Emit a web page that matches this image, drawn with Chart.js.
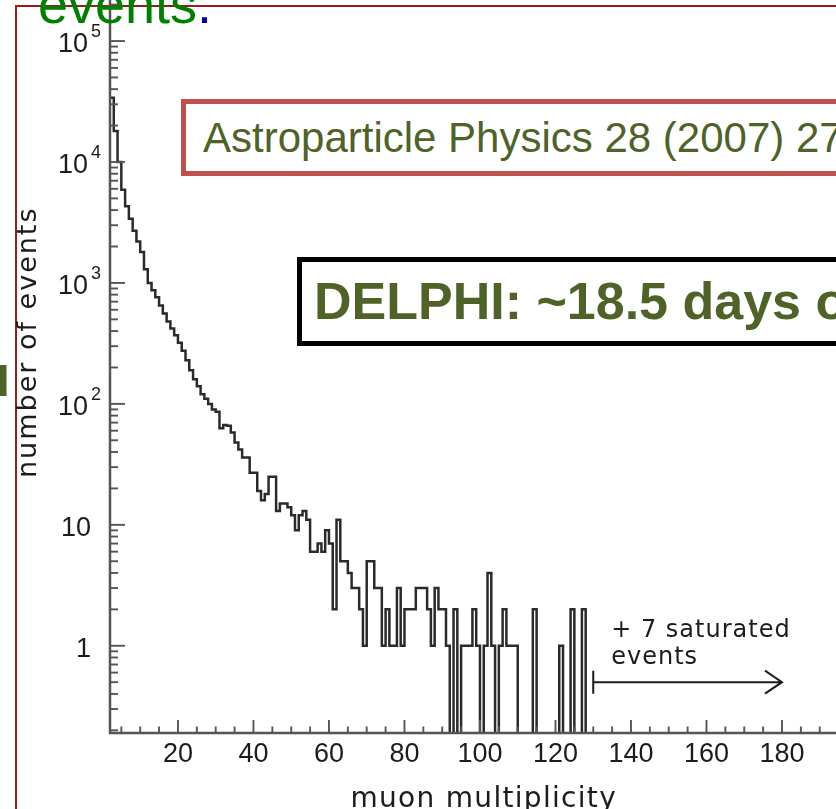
<!DOCTYPE html>
<html>
<head>
<meta charset="utf-8">
<title>DELPHI muon multiplicity</title>
<script src="https://cdn.jsdelivr.net/npm/chart.js@4.4.1/dist/chart.umd.min.js"></script>
<style>
  html, body { margin: 0; padding: 0; background: #fff; }
  body { position: relative; width: 836px; height: 809px; overflow: hidden;
         font-family: "Liberation Sans", Arial, sans-serif; }
  #plot { position: absolute; left: 0; top: -60px; width: 900px; height: 869px; }
  #frame { position: absolute; left: 15px; top: 5px; width: 1000px; height: 1000px;
           border-left: 2px solid #9e1a1a; border-top: 2px solid #9e1a1a; box-sizing: border-box; }
  .lead { position: absolute; left: 38px; top: -23px; font-size: 54px; line-height: 54px;
          color: #008000; white-space: nowrap; }
  .lead span { color: #000099; }
  .side { position: absolute; left: -26px; top: 346px; font-size: 60px; line-height: 60px;
          font-weight: bold; color: #4f6228; }
  .box { position: absolute; background: #fff; box-sizing: border-box; white-space: nowrap; }
  #ref { left: 181px; top: 99px; width: 760px; height: 77px; border: 5px solid #c0504d; }
  #ref span { position: absolute; left: 17px; top: 13px; font-size: 42px; line-height: 42px; color: #4f6228; }
  #exposure { left: 297px; top: 257px; width: 700px; height: 89px; border: 5px solid #000; }
  #exposure span { position: absolute; left: 12px; top: 13px; font-size: 52px; line-height: 52px;
                   font-weight: bold; color: #4f6228; }
</style>
</head>
<body>
<div id="frame"></div>
<canvas id="plot" width="900" height="869"></canvas>
<div class="lead">events<span>.</span></div>
<div class="side">u</div>
<div class="box" id="ref"><span>Astroparticle Physics 28 (2007) 273</span></div>
<div class="box" id="exposure"><span>DELPHI: ~18.5 days of data</span></div>
<script>
// Lower edge of each unit-wide multiplicity bin
const multiplicity = [
  2, 3, 4, 5, 6, 7, 8, 9, 10, 11, 12, 13, 14, 15, 16, 17, 18, 19, 20, 21,
  22, 23, 24, 25, 26, 27, 28, 29, 30, 31, 32, 33, 34, 35, 36, 37, 38, 39, 40, 41,
  42, 43, 44, 45, 46, 47, 48, 49, 50, 51, 52, 53, 54, 55, 56, 57, 58, 59, 60, 61,
  62, 63, 64, 65, 66, 67, 68, 69, 70, 71, 72, 73, 74, 75, 76, 77, 78, 79, 80, 81,
  82, 83, 84, 85, 86, 87, 88, 89, 90, 91, 92, 93, 94, 95, 96, 97, 98, 99, 100, 101,
  102, 103, 104, 105, 106, 107, 108, 109, 110, 111, 112, 113, 114, 115, 116, 117, 118, 119, 120, 121,
  122, 123, 124, 125, 126, 127
];

// Number of events recorded in each bin
const events = [
  34000, 18000, 10000, 5900, 4300, 3400, 2700, 2200, 1800, 1300, 1000, 870, 760, 650, 560, 480, 420, 370, 320, 275,
  230, 190, 160, 140, 120, 110, 100, 90, 86, 63, 67, 66, 58, 48, 42, 36, 36, 27, 27, 19,
  16, 18, 25, 25, 13, 15, 15, 14, 12, 9, 12, 13, 11, 6, 6, 7, 6, 9, 7, 2,
  11, 5, 5, 4, 3, 3, 2, 1, 5, 5, 3, 3, 1, 2, 1, 1, 3, 1, 2, 2,
  2, 3, 3, 3, 2, 1, 3, 2, 2, 1, 0, 2, 0, 1, 1, 1, 2, 1, 0, 1,
  4, 1, 0, 1, 2, 1, 1, 1, 0, 0, 0, 0, 2, 0, 0, 0, 0, 0, 0, 1,
  0, 0, 2, 0, 0, 2
];

const xTickValues = [20, 40, 60, 80, 100, 120, 140, 160, 180];
const xTickLabels = ['20', '40', '60', '80', '100', '120', '140', '160', '180'];
const yTickValues = [1, 10, 100, 1000, 10000, 100000];
const yTickLabels = ['1', '10', '10^2', '10^3', '10^4', '10^5'];

const xTitle = 'muon multiplicity';
const yTitle = 'number of events';
const saturatedEvents = 7;
const saturatedFrom = 130;   // arrow start (multiplicity)
const saturatedTo = 180;     // arrow tip (multiplicity)
const saturatedLevel = 0.5;  // arrow height on the count axis

const INK = '#1c1c1c';
const AXIS = '#555';
// empty bins cannot sit on a log axis, so they fall below its minimum
const EMPTY_FLOOR = 1e-3;

const steps = multiplicity.map((m, i) => ({ x: m, y: events[i] > 0 ? events[i] : EMPTY_FLOOR }));
steps.push({ x: multiplicity[multiplicity.length - 1] + 1, y: EMPTY_FLOOR });

const axesDecor = {
  id: 'axesDecor',
  afterDatasetsDraw(chart) {
    const { ctx, chartArea: a, scales: { x, y } } = chart;
    ctx.save();
    ctx.strokeStyle = AXIS;
    ctx.lineCap = 'butt';

    // axis lines
    ctx.lineWidth = 2.5;
    ctx.beginPath();
    ctx.moveTo(a.left, a.top);
    ctx.lineTo(a.left, a.bottom);
    ctx.lineTo(a.right, a.bottom);
    ctx.stroke();

    // inward ticks on the count axis
    ctx.lineWidth = 1.9;
    for (let d = -1; d <= 5; d++) {
      for (let k = 1; k <= 9; k++) {
        const v = k * Math.pow(10, d);
        if (v < y.min || v > y.max) continue;
        const py = y.getPixelForValue(v);
        const len = k === 1 ? 15 : 8;
        ctx.beginPath();
        ctx.moveTo(a.left, py);
        ctx.lineTo(a.left + len, py);
        ctx.stroke();
      }
    }
    // inward ticks on the multiplicity axis
    for (let v = 5; v < x.max; v += 5) {
      const px = x.getPixelForValue(v);
      const len = v % 20 === 0 ? 13 : 6.5;
      ctx.beginPath();
      ctx.moveTo(px, a.bottom);
      ctx.lineTo(px, a.bottom - len);
      ctx.stroke();
    }

    // tick labels
    ctx.fillStyle = INK;
    ctx.textBaseline = 'alphabetic';
    ctx.font = '27px "Liberation Sans", Arial, sans-serif';
    ctx.textAlign = 'center';
    xTickValues.forEach((v, i) => {
      ctx.fillText(xTickLabels[i], x.getPixelForValue(v), a.bottom + 29);
    });
    yTickValues.forEach((v, i) => {
      const py = y.getPixelForValue(v);
      const [base, exp] = yTickLabels[i].split('^');
      ctx.font = '27px "Liberation Sans", Arial, sans-serif';
      ctx.textAlign = 'right';
      if (exp) {
        ctx.fillText(base, a.left - 22, py + 11);
        ctx.font = '18px "Liberation Sans", Arial, sans-serif';
        ctx.textAlign = 'left';
        ctx.fillText(exp, a.left - 19, py - 4);
      } else {
        ctx.fillText(base, a.left - 19, py + 11);
      }
    });

    // axis titles
    ctx.font = '28px "DejaVu Sans", sans-serif';
    ctx.letterSpacing = '1.3px';
    ctx.textAlign = 'center';
    ctx.fillText(xTitle, (a.left + a.right) / 2, a.bottom + 74);
    ctx.save();
    ctx.translate(a.left - 74, (a.top + a.bottom) / 2);
    ctx.rotate(-Math.PI / 2);
    ctx.font = '27px "DejaVu Sans", sans-serif';
    ctx.letterSpacing = '2px';
    ctx.fillText(yTitle, 0, 0);
    ctx.restore();

    // saturated-events note with its arrow
    const x0 = x.getPixelForValue(saturatedFrom);
    const x1 = x.getPixelForValue(saturatedTo);
    const ya = y.getPixelForValue(saturatedLevel);
    ctx.strokeStyle = INK;
    ctx.lineWidth = 2;
    ctx.beginPath();
    ctx.moveTo(x0, ya - 11.5); ctx.lineTo(x0, ya + 11.5);
    ctx.moveTo(x0, ya); ctx.lineTo(x1, ya);
    ctx.moveTo(x1 - 17, ya - 11.5); ctx.lineTo(x1, ya); ctx.lineTo(x1 - 17, ya + 11.5);
    ctx.stroke();
    ctx.font = '24px "DejaVu Sans", sans-serif';
    ctx.letterSpacing = '1px';
    ctx.textAlign = 'left';
    const tx = x0 + 18;
    ctx.fillText('+ ' + saturatedEvents + ' saturated', tx, ya - 45);
    ctx.fillText('events', tx, ya - 18);
    ctx.restore();
  }
};

new Chart(document.getElementById('plot'), {
  type: 'line',
  data: {
    datasets: [{
      data: steps,
      stepped: 'before',
      borderColor: '#2a2a2a',
      borderWidth: 2.5,
      pointRadius: 0,
      fill: false,
      tension: 0
    }]
  },
  options: {
    responsive: false,
    animation: false,
    events: [],
    layout: { padding: { left: 110, right: 42.5, top: 11.5, bottom: 76 } },
    plugins: { legend: { display: false }, tooltip: { enabled: false } },
    scales: {
      x: { type: 'linear', min: 2, max: 200, display: false },
      y: { type: 'logarithmic', min: 0.19, max: 5.5e5, display: false }
    }
  },
  plugins: [axesDecor]
});
</script>
</body>
</html>
